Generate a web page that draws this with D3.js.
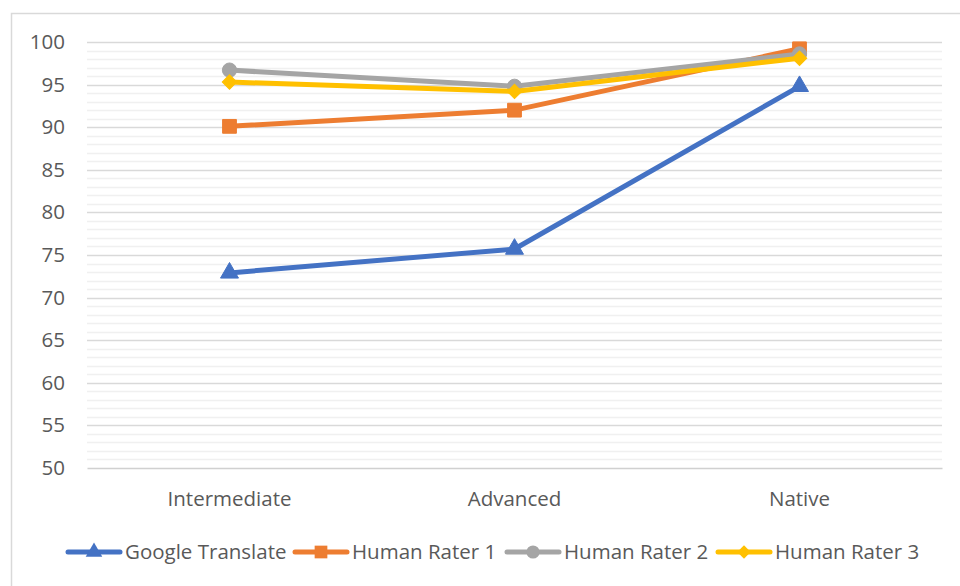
<!DOCTYPE html>
<html>
<head>
<meta charset="utf-8">
<script src="https://cdn.jsdelivr.net/npm/d3@7"></script>
<style>
  html, body { margin: 0; padding: 0; background: #fff; }
  svg { display: block; font-family: "Open Sans", sans-serif; }
</style>
</head>
<body>
<svg id="chart" width="960" height="586"></svg>
<script>
// Proficiency levels on the x axis
const categories = ["Intermediate", "Advanced", "Native"];

// Scores per rater
const googleTranslate = [72.9, 75.7, 94.8];
const humanRater1 = [90.1, 92.0, 99.2];
const humanRater2 = [96.7, 94.8, 98.6];
const humanRater3 = [95.3, 94.2, 98.1];

const seriesNames = ["Google Translate", "Human Rater 1", "Human Rater 2", "Human Rater 3"];
const seriesColors = ["#4472C4", "#ED7D31", "#A5A5A5", "#FFC000"];

const yTicks = [50, 55, 60, 65, 70, 75, 80, 85, 90, 95, 100];

// Marker shapes: symbol type, area, and rotation (diamond = square turned 45°)
const markerDefs = [
  { type: d3.symbolTriangle, size: 140, rotate: 0 },
  { type: d3.symbolSquare, size: 190, rotate: 0 },
  { type: d3.symbolCircle, size: 160, rotate: 0 },
  { type: d3.symbolSquare, size: 105, rotate: 45 }
];

const series = [googleTranslate, humanRater1, humanRater2, humanRater3].map((values, i) => ({
  name: seriesNames[i], color: seriesColors[i], marker: markerDefs[i], values
}));

const svg = d3.select("#chart");
const plot = { left: 87, right: 942, top: 42, bottom: 468 };
const fontSize = "20.5px";
const textColor = "#595959";
const lineWidth = 5;

// Outer chart frame
svg.append("rect")
  .attr("x", 11.5).attr("y", 13.5)
  .attr("width", 960).attr("height", 600)
  .attr("fill", "#fff").attr("stroke", "#d9d9d9").attr("stroke-width", 1.5);

const x = d3.scaleBand().domain(categories).range([plot.left, plot.right]);
const y = d3.scaleLinear().domain([50, 100]).range([plot.bottom, plot.top]);

// Minor gridlines every unit
const minor = d3.range(51, 100).filter(v => v % 5 !== 0);
svg.append("g").selectAll("line").data(minor).join("line")
  .attr("x1", plot.left).attr("x2", plot.right)
  .attr("y1", d => Math.round(y(d)) + 0.5).attr("y2", d => Math.round(y(d)) + 0.5)
  .attr("stroke", "#f0f0f0").attr("stroke-width", 1.5);

// Major gridlines
svg.append("g").selectAll("line").data(yTicks.filter(v => v > 50)).join("line")
  .attr("x1", plot.left).attr("x2", plot.right)
  .attr("y1", d => Math.round(y(d)) + 0.5).attr("y2", d => Math.round(y(d)) + 0.5)
  .attr("stroke", "#d9d9d9").attr("stroke-width", 1.5);

// Y axis labels
const yAxis = d3.axisLeft(y).tickValues(yTicks).tickSize(0).tickPadding(0);
const gy = svg.append("g").attr("transform", `translate(${plot.left - 22},0)`).call(yAxis);
gy.select(".domain").remove();
gy.selectAll("text").attr("fill", textColor).style("font-size", fontSize)
  .style("font-family", "'Open Sans', sans-serif");

// X axis
const xAxis = d3.axisBottom(x).tickSize(0).tickPadding(0);
const gx = svg.append("g").attr("transform", `translate(0,${plot.bottom})`).call(xAxis);
gx.select(".domain").attr("stroke", "#d0d0d0").attr("stroke-width", 1.5);
gx.selectAll("text").attr("fill", textColor).attr("dy", "0").attr("y", 38)
  .style("font-size", fontSize).style("font-family", "'Open Sans', sans-serif");

// Series lines and markers
const cx = c => x(c) + x.bandwidth() / 2;
const line = d3.line().x((d, i) => cx(categories[i])).y(d => y(d));
const markerPath = (m, scale = 1) => d3.symbol().type(m.type).size(m.size * scale)();

series.forEach(s => {
  const g = svg.append("g");
  g.append("path").datum(s.values)
    .attr("d", line).attr("fill", "none")
    .attr("stroke", s.color).attr("stroke-width", lineWidth)
    .attr("stroke-linejoin", "round").attr("stroke-linecap", "round");
  g.selectAll("path.pt").data(s.values).join("path")
    .attr("class", "pt")
    .attr("transform", (d, i) => `translate(${cx(categories[i])},${y(d)}) rotate(${s.marker.rotate})`)
    .attr("d", markerPath(s.marker))
    .attr("fill", s.color).attr("stroke", s.color).attr("stroke-width", 1);
});

// Legend
const legendX = [68, 295, 507, 718];
const legendY = 552;
const lg = svg.append("g");
series.forEach((s, i) => {
  const item = lg.append("g").attr("transform", `translate(${legendX[i]},${legendY})`);
  item.append("line").attr("x1", 0).attr("x2", 52).attr("y1", 0).attr("y2", 0)
    .attr("stroke", s.color).attr("stroke-width", lineWidth).attr("stroke-linecap", "round");
  item.append("path").attr("transform", `translate(26,0) rotate(${s.marker.rotate})`)
    .attr("d", markerPath(s.marker, 0.85))
    .attr("fill", s.color);
  item.append("text").attr("x", 57).attr("y", 0).attr("dy", "0.35em")
    .attr("fill", textColor).style("font-size", fontSize)
    .text(s.name);
});
</script>
</body>
</html>
